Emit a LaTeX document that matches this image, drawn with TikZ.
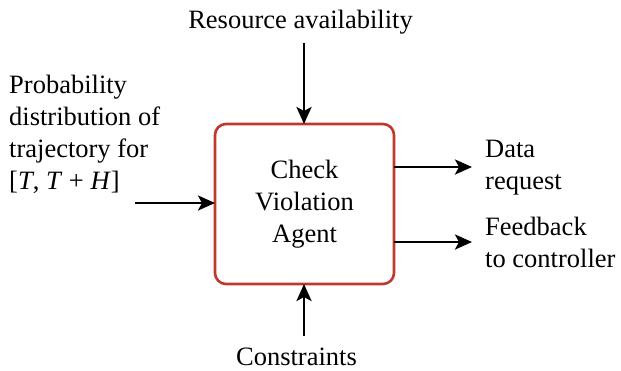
\documentclass[tikz,border=0pt]{standalone}
\usepackage{fontspec}
\setmainfont{Liberation Serif}
\usetikzlibrary{arrows.meta}
\definecolor{boxred}{RGB}{192,57,43}
\tikzset{
  lbl/.style={inner sep=0pt, font=\fontsize{26.5}{32}\selectfont},
  agentbox/.style={draw=boxred, line width=2.6pt, rounded corners=11pt, fill=white},
  flow/.style={line width=2.8pt, -{Stealth[length=17pt,width=15pt,inset=4pt]}}
}
\begin{document}
\begin{tikzpicture}[x=1pt,y=-1pt]
\useasboundingbox (0,0) rectangle (621,370);
\draw[agentbox] (215,124) rectangle (394,284);
\coordinate (boxc) at (304.5,204);
\node[lbl, align=center] (agent) at (boxc) {Check\\Violation\\Agent};
\coordinate (btop) at (304,124);
\coordinate (bbot) at (304,284);
\coordinate (bleft) at (215,203);
\coordinate (bright1) at (394,167);
\coordinate (bright2) at (394,242);
\node[lbl, anchor=base] (res) at (300.5,28) {Resource availability};
\node[lbl, anchor=base] (con) at (296.5,365) {Constraints};
\node[lbl, align=left, anchor=north west] (prob) at (9,75) {Probability\\distribution of\\trajectory for\\{[}\textit{T}, \textit{T} + \textit{H}{]}};
\node[lbl, align=left, anchor=north west] (data) at (485,140) {Data\\request};
\node[lbl, align=left, anchor=north west] (fb) at (485,217) {Feedback\\to controller};
\coordinate (restail) at (304,43);
\coordinate (contail) at (304,336);
\coordinate (probtail) at (135,203);
\coordinate (datahead) at (472,167);
\coordinate (fbhead) at (472,242);
\draw[flow] (restail) -- (btop);
\draw[flow] (contail) -- (bbot);
\draw[flow] (probtail) -- (bleft);
\draw[flow] (bright1) -- (datahead);
\draw[flow] (bright2) -- (fbhead);
\end{tikzpicture}
\end{document}
